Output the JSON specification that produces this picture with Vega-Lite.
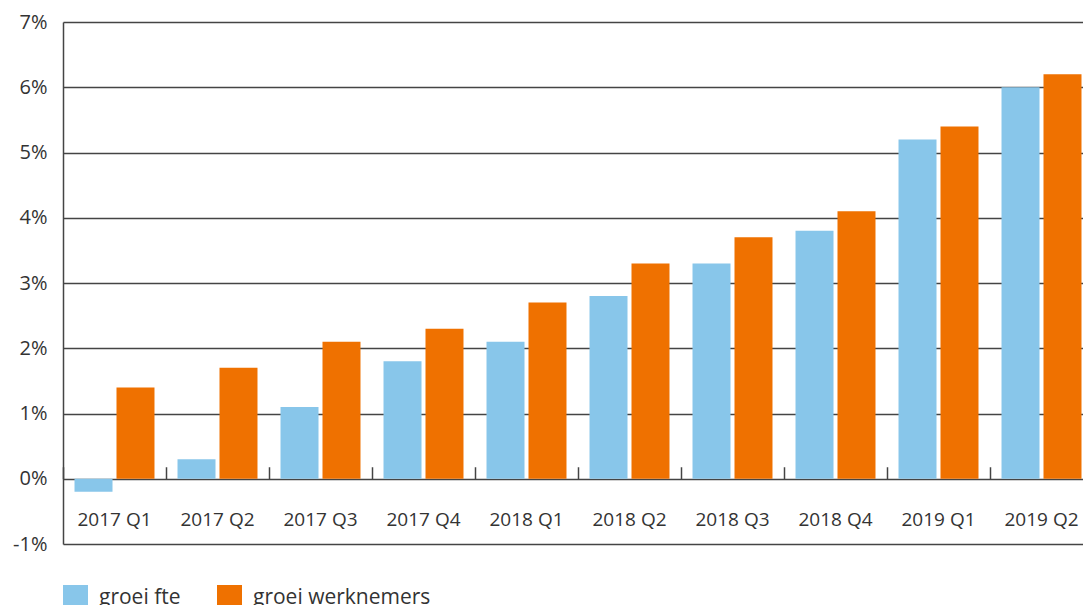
{
  "$schema": "https://vega.github.io/schema/vega-lite/v6.json",
  "width": 1020,
  "height": 522,
  "autosize": {"type": "none"},
  "padding": {"left": 63, "top": 22, "right": 0, "bottom": 61},
  "config": {"view": {"stroke": null}, "font": "Open Sans"},
  "data": {
    "values": [
      {"kwartaal": "2017 Q1", "reeks": "groei fte", "waarde": -0.2},
      {"kwartaal": "2017 Q1", "reeks": "groei werknemers", "waarde": 1.4},
      {"kwartaal": "2017 Q2", "reeks": "groei fte", "waarde": 0.3},
      {"kwartaal": "2017 Q2", "reeks": "groei werknemers", "waarde": 1.7},
      {"kwartaal": "2017 Q3", "reeks": "groei fte", "waarde": 1.1},
      {"kwartaal": "2017 Q3", "reeks": "groei werknemers", "waarde": 2.1},
      {"kwartaal": "2017 Q4", "reeks": "groei fte", "waarde": 1.8},
      {"kwartaal": "2017 Q4", "reeks": "groei werknemers", "waarde": 2.3},
      {"kwartaal": "2018 Q1", "reeks": "groei fte", "waarde": 2.1},
      {"kwartaal": "2018 Q1", "reeks": "groei werknemers", "waarde": 2.7},
      {"kwartaal": "2018 Q2", "reeks": "groei fte", "waarde": 2.8},
      {"kwartaal": "2018 Q2", "reeks": "groei werknemers", "waarde": 3.3},
      {"kwartaal": "2018 Q3", "reeks": "groei fte", "waarde": 3.3},
      {"kwartaal": "2018 Q3", "reeks": "groei werknemers", "waarde": 3.7},
      {"kwartaal": "2018 Q4", "reeks": "groei fte", "waarde": 3.8},
      {"kwartaal": "2018 Q4", "reeks": "groei werknemers", "waarde": 4.1},
      {"kwartaal": "2019 Q1", "reeks": "groei fte", "waarde": 5.2},
      {"kwartaal": "2019 Q1", "reeks": "groei werknemers", "waarde": 5.4},
      {"kwartaal": "2019 Q2", "reeks": "groei fte", "waarde": 6.0},
      {"kwartaal": "2019 Q2", "reeks": "groei werknemers", "waarde": 6.2}
    ]
  },
  "mark": {"type": "bar"},
  "encoding": {
    "x": {
      "field": "kwartaal",
      "type": "nominal",
      "sort": null,
      "scale": {"paddingInner": 0, "paddingOuter": 0, "range": [0, 1030]},
      "axis": {
        "title": null,
        "labelAngle": 0,
        "domain": false,
        "grid": false,
        "ticks": true,
        "tickSize": -12,
        "tickColor": "#444444",
        "tickWidth": 1.5,
        "bandPosition": 0,
        "labelPadding": 44,
        "offset": -65.25,
        "labelFontSize": 19,
        "labelColor": "#333333"
      }
    },
    "xOffset": {
      "field": "reeks",
      "type": "nominal",
      "sort": ["groei fte", "groei werknemers"],
      "scale": {"paddingInner": 0.095, "paddingOuter": 0.274}
    },
    "y": {
      "field": "waarde",
      "type": "quantitative",
      "scale": {"domain": [-1, 7], "nice": false, "zero": false},
      "axis": {
        "title": null,
        "values": [-1, 0, 1, 2, 3, 4, 5, 6, 7],
        "labelExpr": "datum.value + '%'",
        "ticks": false,
        "labelPadding": 16,
        "grid": true,
        "gridColor": "#444444",
        "gridWidth": 1.5,
        "domain": true,
        "domainColor": "#444444",
        "domainWidth": 1.5,
        "labelFontSize": 20,
        "labelColor": "#333333"
      }
    },
    "color": {
      "field": "reeks",
      "type": "nominal",
      "scale": {"domain": ["groei fte", "groei werknemers"], "range": ["#88C6EA", "#EF7100"]},
      "legend": {
        "title": null,
        "orient": "none",
        "legendX": 0,
        "legendY": 563,
        "direction": "horizontal",
        "symbolType": "square",
        "symbolSize": 625,
        "symbolStrokeWidth": 0,
        "labelFontSize": 21,
        "labelLimit": 400,
        "labelColor": "#333333",
        "labelOffset": 11,
        "columnPadding": 36
      }
    }
  }
}
